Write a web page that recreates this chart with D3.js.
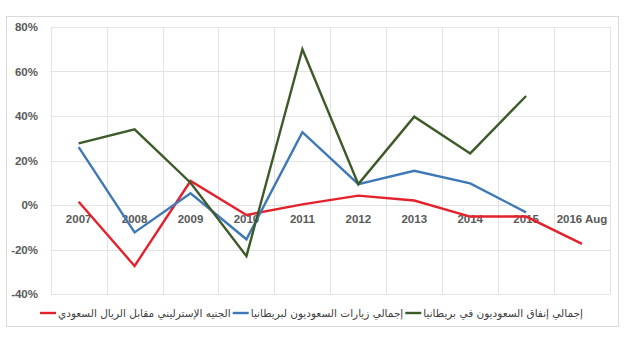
<!DOCTYPE html>
<html>
<head>
<meta charset="utf-8">
<script src="https://cdn.jsdelivr.net/npm/d3@7"></script>
<style>
  html, body { margin: 0; padding: 0; background: #fff; }
  svg { display: block; }
</style>
</head>
<body>
<svg id="chart" width="629" height="339"></svg>
<script>
// Categories (years) and the three yearly change series, in percent
const categories = ["2007", "2008", "2009", "2010", "2011", "2012", "2013", "2014", "2015", "2016 Aug"];
const spending = [27.7, 34, 10, -23, 70, 9.4, 39.7, 23.2, 49, null];
const visits = [26, -12.3, 5.3, -15.4, 32.7, 9.4, 15.4, 9.7, -3.3, null];
const gbpSar = [1.5, -27.4, 10.8, -4.5, 0.3, 4.2, 2, -5.2, -5.2, -17.5];
const yTicks = [-40, -20, 0, 20, 40, 60, 80];

const seriesNames = {
  spending: "إجمالي إنفاق السعوديون في بريطانيا",
  visits: "إجمالي زيارات السعوديون لبريطانيا",
  gbpSar: "الجنيه الإسترليني مقابل الريال السعودي"
};

const series = [
  { key: "spending", name: seriesNames.spending, values: spending, color: "#3d5a29" },
  { key: "visits", name: seriesNames.visits, values: visits, color: "#3f78b6" },
  { key: "gbpSar", name: seriesNames.gbpSar, values: gbpSar, color: "#e3222b" }
];

const svg = d3.select("#chart");
const plot = { left: 50.7, right: 610, top: 27, bottom: 294 };

// Outer chart frame
svg.append("rect")
  .attr("x", 6.5).attr("y", 16.5)
  .attr("width", 612).attr("height", 310)
  .attr("fill", "#fff").attr("stroke", "#d9d9d9").attr("stroke-width", 1);

const x = d3.scaleBand().domain(categories).range([plot.left, plot.right]).padding(0);
const y = d3.scaleLinear().domain([-40, 80]).range([plot.bottom, plot.top]);

// Horizontal gridlines
svg.append("g").selectAll("line").data(yTicks).join("line")
  .attr("x1", plot.left).attr("x2", plot.right)
  .attr("y1", d => Math.round(y(d)) + 0.5).attr("y2", d => Math.round(y(d)) + 0.5)
  .attr("stroke", "#e3e3e3").attr("stroke-width", 1);

// Vertical gridlines at category boundaries
const bounds = categories.map(c => x(c)).concat([plot.right]);
svg.append("g").selectAll("line").data(bounds).join("line")
  .attr("x1", d => Math.round(d) + 0.5).attr("x2", d => Math.round(d) + 0.5)
  .attr("y1", plot.top).attr("y2", plot.bottom)
  .attr("stroke", "#e3e3e3").attr("stroke-width", 1);

// Y axis labels
const yAxis = d3.axisLeft(y).tickValues(yTicks).tickFormat(d => d + "%").tickSize(0).tickPadding(0);
svg.append("g")
  .attr("transform", `translate(38,0)`)
  .call(yAxis)
  .call(g => g.select(".domain").remove())
  .call(g => g.selectAll("text")
    .attr("font-family", "Liberation Sans, Arial, sans-serif")
    .attr("font-size", 11.5).attr("font-weight", "bold").attr("fill", "#595959"));

// X axis labels sit just under the zero line
const xAxis = d3.axisBottom(x).tickSize(0).tickPadding(0);
svg.append("g")
  .attr("transform", `translate(0,${y(0) + 10})`)
  .call(xAxis)
  .call(g => g.select(".domain").remove())
  .call(g => g.selectAll("text")
    .attr("font-family", "Liberation Sans, Arial, sans-serif")
    .attr("font-size", 11.5).attr("font-weight", "bold").attr("fill", "#595959"));

// Series lines
const line = d3.line()
  .defined(d => d.v !== null)
  .x(d => x(d.c) + x.bandwidth() / 2)
  .y(d => y(d.v));

// Draw red first, then blue, then green on top
[series[2], series[1], series[0]].forEach(s => {
  svg.append("path")
    .datum(categories.map((c, i) => ({ c, v: s.values[i] })))
    .attr("fill", "none")
    .attr("stroke", s.color)
    .attr("stroke-width", 2.4)
    .attr("stroke-linejoin", "miter")
    .attr("d", line);
});

// Legend, laid out right to left
const legend = svg.append("g");
let cursor = 583;
const legendY = 313;
series.forEach(s => {
  const t = legend.append("text")
    .attr("x", cursor).attr("y", legendY + 4)
    .attr("text-anchor", "end")
    .attr("font-family", "DejaVu Sans, sans-serif")
    .attr("font-size", 10.5)
    .attr("fill", "#404040")
    .text(s.name);
  const w = t.node().getComputedTextLength();
  cursor -= w + 2;
  legend.append("line")
    .attr("x1", cursor - 16).attr("x2", cursor)
    .attr("y1", legendY).attr("y2", legendY)
    .attr("stroke", s.color).attr("stroke-width", 2.4);
  cursor -= 16 + 2;
});
</script>
</body>
</html>
